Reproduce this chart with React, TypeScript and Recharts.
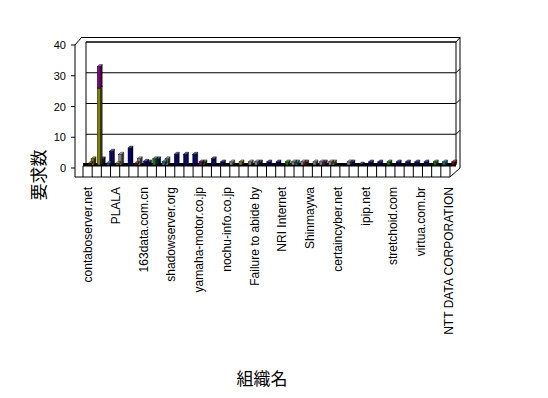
import React from 'react';
import { BarChart, Bar, XAxis, YAxis, CartesianGrid, Customized } from 'recharts';

// organisation names (only every third one is printed on the axis)
const labels = [
  'contaboserver.net', '', '', 'PLALA', '', '', '163data.com.cn', '', '',
  'shadowserver.org', '', '', 'yamaha-motor.co.jp', '', '', 'nochu-info.co.jp', '', '',
  'Failure to abide by', '', '', 'NRI Internet', '', '', 'Shinmaywa', '', '',
  'certaincyber.net', '', '', 'ipip.net', '', '', 'stretchoid.com', '', '',
  'virtua.com.br', '', '', 'NTT DATA CORPORATION',
];

const leftValues = [
  2, 2, 4.5, 3.5, 5.5, 2, 1, 2, 2, 3.5,
  3.5, 3.5, 1, 2, 1, 1, 1, 1, 1, 1,
  1, 1, 1, 1, 1, 1, 1, 0, 1, 0.3,
  1, 1, 1, 1, 1, 1, 1, 1, 1, 1,
];
const rightValues = [
  0.5, 25, 0.6, 0.5, 0, 0.5, 1.2, 2, 1, 0,
  0, 0, 1, 0, 0, 0, 0, 0, 1, 0,
  0, 0, 1, 1, 0, 1, 1, 0, 1, 0,
  0, 0, 0, 0, 0, 0, 0, 0, 0, 0,
];
const topValues = [
  0, 7, 0, 0, 0, 0, 0, 0, 0, 0,
  0, 0, 0, 0, 0, 0, 0, 0, 0, 0,
  0, 0, 0, 0, 0, 0, 0, 0, 0, 0,
  0, 0, 0, 0, 0, 0, 0, 0, 0, 0,
];
const yTicks = [0, 10, 20, 30, 40];

// colour key of each bar
const leftKinds = [
  'o', 'n', 'n', 'g', 'n', 'g', 'n', 'n', 'g', 'n',
  'n', 'n', 'v', 'n', 'n', 'g', 'o', 'g', 'n', 'n',
  'n', 'v', 't', 'r', 'g', 'p', 'o', 'n', 'n', 'n',
  'n', 'n', 'v', 'n', 'n', 'n', 'n', 'v', 't', 'r',
];
const rightKinds = [
  'r', 'o', 't', 'o', 'n', 'r', 'n', 'v', 't', 'n',
  'n', 'n', 'p', 'n', 'n', 'n', 'n', 'n', 'g', 'n',
  'n', 'n', 'g', 'g', 'n', 'g', 'g', 'n', 'g', 'n',
  'n', 'n', 'n', 'n', 'n', 'n', 'n', 'n', 'n', 'n',
];

const palette: Record<string, string> = {
  n: '#000080',
  o: '#808000',
  p: '#800080',
  t: '#008080',
  g: '#808080',
  r: '#800000',
  v: '#008000',
};

const data = labels.map((name, i) => ({
  idx: i,
  name,
  left: leftValues[i],
  right: rightValues[i],
  top: topValues[i],
  leftFill: palette[leftKinds[i]],
  rightFill: palette[rightKinds[i]],
}));

const W = 548;
const H = 398;
const PLOT = { left: 86, right: 456, top: 42, bottom: 165 };
const FRONT_X = 75;
const FONT = '"Liberation Sans", Arial, sans-serif';
const JP_FONT = '"Noto Sans CJK JP", sans-serif';

const shade = (hex: string, k: number) => {
  const n = parseInt(hex.slice(1), 16);
  const c = [(n >> 16) & 255, (n >> 8) & 255, n & 255].map((v) =>
    Math.max(0, Math.min(255, Math.round(k > 1 ? v + (255 - v) * (k - 1) : v * k)))
  );
  return `rgb(${c[0]},${c[1]},${c[2]})`;
};

// pseudo 3D column: front face, shaded side and a lighter top
const Block = (props: any) => {
  const { x, y, width, height, fill } = props;
  if (!height || height <= 0 || !fill) return null;
  const d = 2;
  return (
    <g>
      <polygon
        points={`${x + width},${y} ${x + width + d},${y - d} ${x + width + d},${y + height - d} ${x + width},${y + height}`}
        fill={shade(fill, 0.45)}
        stroke="#000"
        strokeWidth={0.4}
      />
      <polygon
        points={`${x},${y} ${x + d},${y - d} ${x + width + d},${y - d} ${x + width},${y}`}
        fill={shade(fill, 1.35)}
        stroke="#000"
        strokeWidth={0.4}
      />
      <rect x={x} y={y} width={width} height={height} fill={fill} stroke="#000" strokeWidth={0.4} />
    </g>
  );
};

const YTick = ({ y, payload }: any) => (
  <g>
    <line x1={FRONT_X - 4} x2={FRONT_X} y1={y + 3} y2={y + 3} stroke="#000" />
    <text x={66} y={y + 3} textAnchor="end" dominantBaseline="central" fontSize={11} fontFamily={FONT} fill="#000">
      {payload.value}
    </text>
  </g>
);

const XTick = ({ x, payload }: any) => {
  const label = labels[payload.value];
  if (!label) return null;
  return (
    <text
      transform={`translate(${x - 2.5},${187}) rotate(-90)`}
      textAnchor="end"
      dominantBaseline="central"
      fontSize={12}
      fontFamily={FONT}
      fill="#000"
    >
      {label}
    </text>
  );
};

// box walls, floor cells and axis titles
const Frame = () => {
  const cellW = (450 - 83) / labels.length;
  const grid = yTicks.slice(1, -1).map((t) => PLOT.bottom - ((PLOT.bottom - PLOT.top) * t) / 40);
  return (
    <g stroke="#000" strokeWidth={1} fill="none">
      <line x1={FRONT_X} y1={45} x2={FRONT_X} y2={177} />
      <line x1={FRONT_X} y1={45} x2={81} y2={38} />
      <line x1={81} y1={37.5} x2={460} y2={37.5} />
      <line x1={PLOT.left} y1={PLOT.top} x2={PLOT.right} y2={PLOT.top} />
      <line x1={PLOT.left} y1={PLOT.top} x2={PLOT.left} y2={PLOT.bottom} />
      <line x1={PLOT.right} y1={PLOT.top} x2={PLOT.right} y2={PLOT.bottom} />
      <line x1={PLOT.right} y1={PLOT.top} x2={460} y2={37.5} />
      <line x1={460} y1={37.5} x2={460} y2={168} />
      <line x1={460} y1={168} x2={450} y2={177} />
      {grid.map((gy) => (
        <line key={gy} x1={PLOT.right} y1={gy} x2={460} y2={gy - 4} />
      ))}
      <rect x={83} y={163} width={PLOT.right - 83} height={3.5} fill="#000" stroke="none" />
      <line x1={FRONT_X} y1={177} x2={450} y2={177} />
      {labels.map((_, i) => (
        <line key={i} x1={83 + cellW * i} y1={166} x2={83 + cellW * i} y2={177} />
      ))}
      <line x1={450} y1={166} x2={450} y2={177} />
      <text
        transform="translate(37,175) rotate(-90)"
        textAnchor="middle"
        dominantBaseline="central"
        fontSize={17}
        fontFamily={JP_FONT}
        fill="#000"
        stroke="none"
      >
        要求数
      </text>
      <text x={262} y={377} textAnchor="middle" dominantBaseline="central" fontSize={17} fontFamily={JP_FONT} fill="#000" stroke="none">
        組織名
      </text>
    </g>
  );
};

export default function App() {
  return (
    <div style={{ position: 'absolute', left: 0, top: 0, width: W, height: H, background: '#fff' }}>
      <BarChart
        width={W}
        height={H}
        data={data}
        margin={{ top: PLOT.top, right: W - PLOT.right, left: PLOT.left - 60, bottom: H - PLOT.bottom - 200 }}
        barSize={3}
        barGap={0}
      >
        <CartesianGrid vertical={false} horizontal stroke="#000" strokeOpacity={1} />
        <Customized component={Frame} />
        <XAxis dataKey="idx" type="category" interval={0} height={200} tickLine={false} axisLine={false} tick={<XTick />} />
        <YAxis width={60} domain={[0, 40]} ticks={yTicks} axisLine={false} tickLine={false} tick={<YTick />} />
        <Bar dataKey="left" isAnimationActive={false} shape={(p: any) => <Block {...p} fill={p.payload.leftFill} />} />
        <Bar dataKey="right" stackId="s" isAnimationActive={false} shape={(p: any) => <Block {...p} fill={p.payload.rightFill} />} />
        <Bar dataKey="top" stackId="s" isAnimationActive={false} shape={(p: any) => <Block {...p} fill={palette.p} />} />
      </BarChart>
    </div>
  );
}
